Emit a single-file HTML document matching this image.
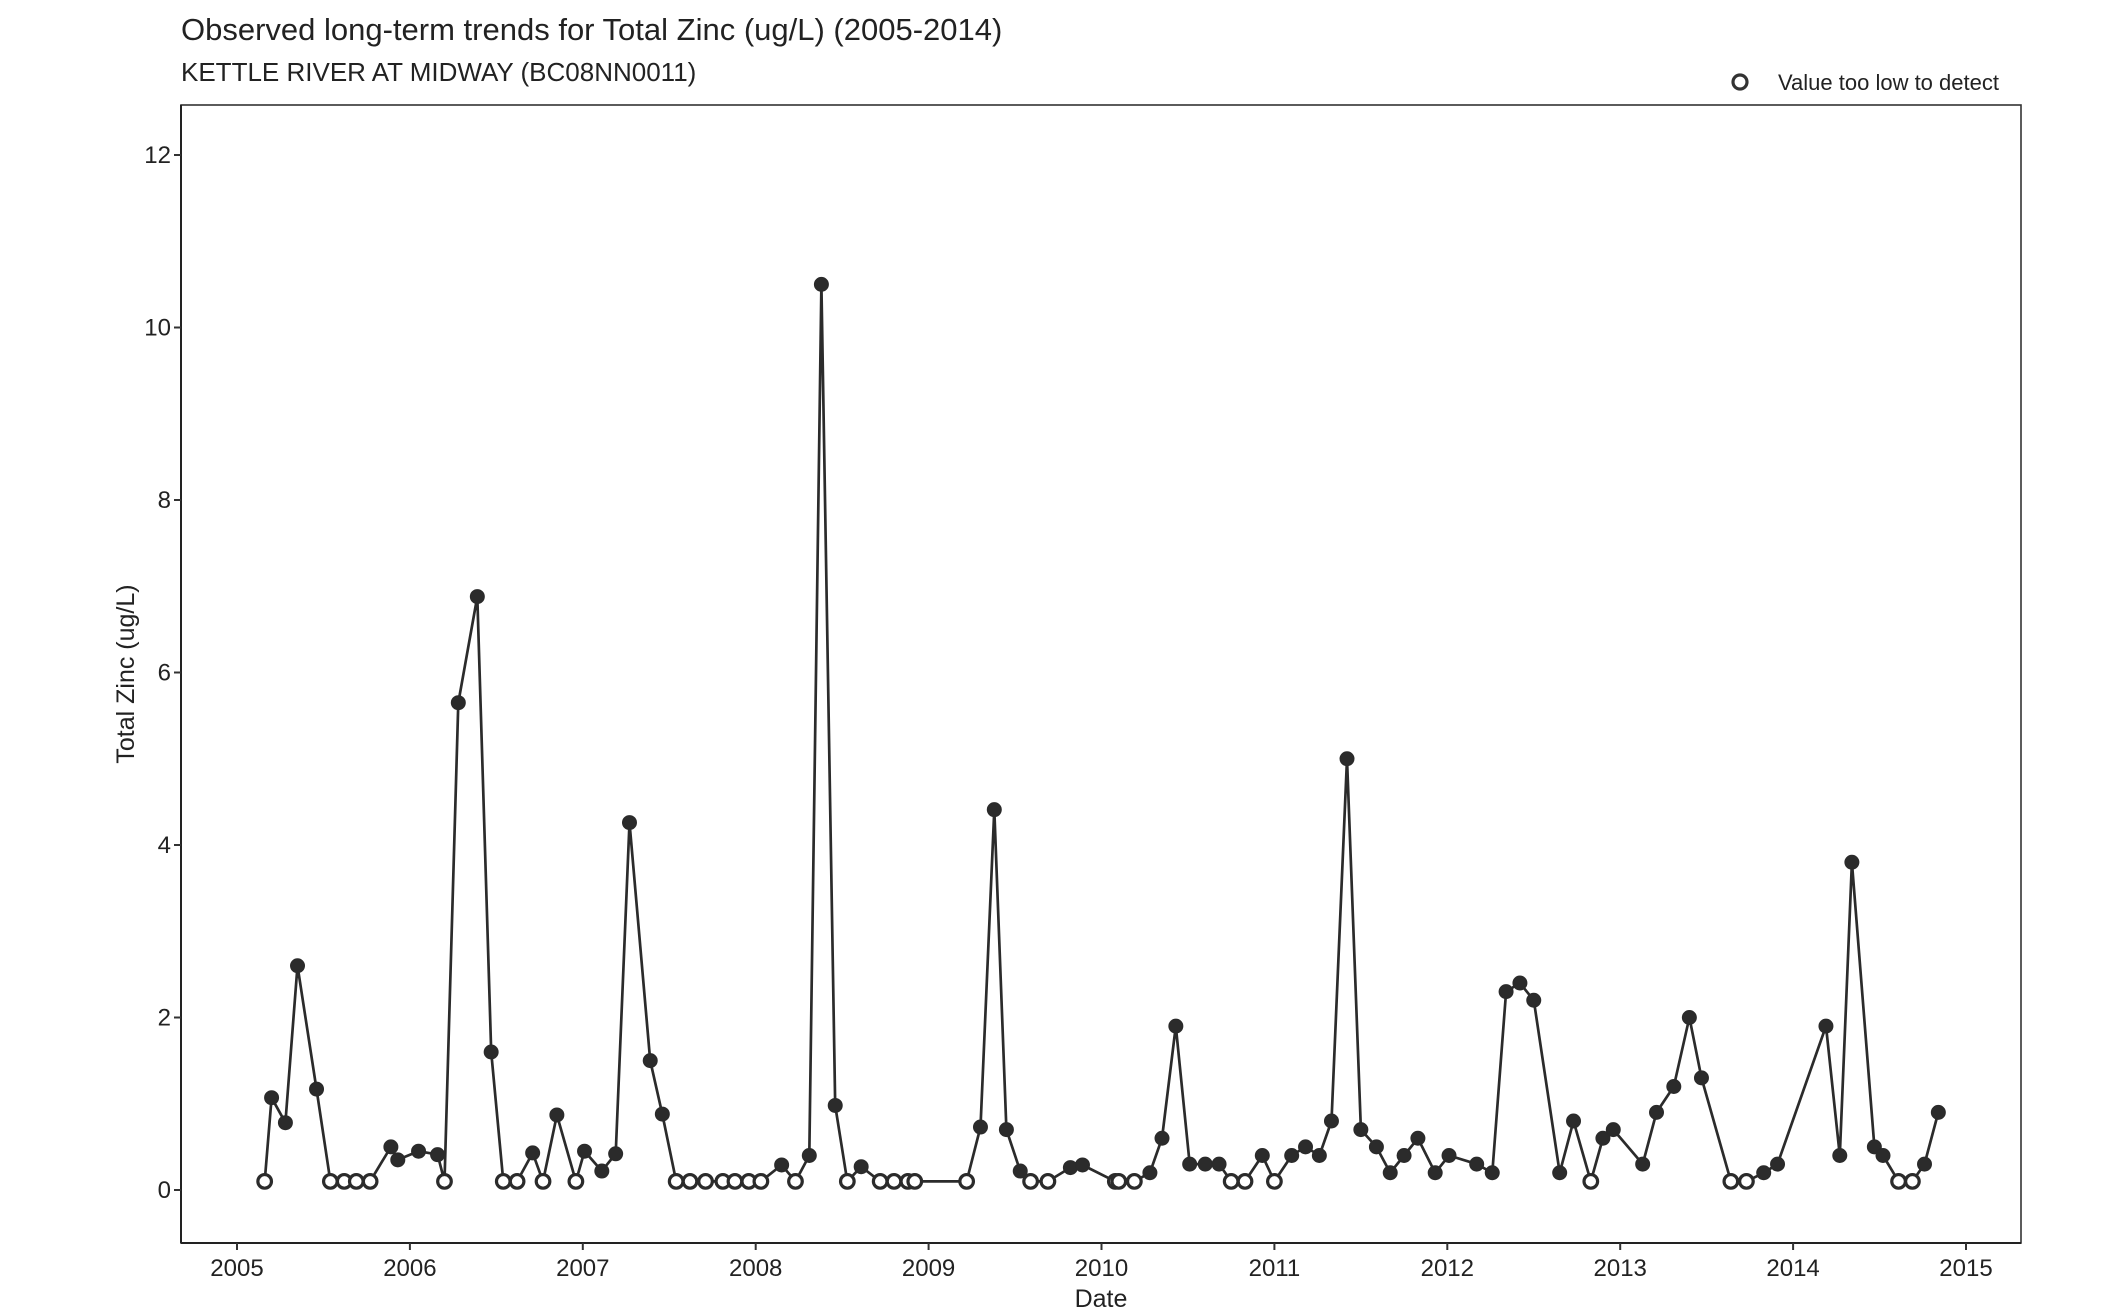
<!DOCTYPE html>
<html><head><meta charset="utf-8"><style>
html,body{margin:0;padding:0;background:#fff;}
svg{display:block;font-family:"Liberation Sans",Arial,sans-serif;}
</style></head><body>
<svg id="chart" width="2112" height="1309" viewBox="0 0 2112 1309" xmlns="http://www.w3.org/2000/svg">
<rect width="2112" height="1309" fill="#fff"/>
<text x="181" y="40" font-size="31" fill="#222">Observed long-term trends for Total Zinc (ug/L) (2005-2014)</text>
<text x="181" y="81" font-size="26" fill="#222">KETTLE RIVER AT MIDWAY (BC08NN0011)</text>
<g>
<circle cx="1740" cy="82" r="7" fill="#fff" stroke="#333" stroke-width="3.2"/>
<text x="1778" y="90" font-size="22" fill="#222">Value too low to detect</text>
</g>
<rect x="181" y="105" width="1840" height="1138" fill="none" stroke="#333" stroke-width="1.6"/>
<g id="axes"></g>
<g id="series"></g>
<text x="1101" y="1307" font-size="25" text-anchor="middle" fill="#222">Date</text>
<text transform="translate(134,674) rotate(-90)" font-size="25" text-anchor="middle" fill="#222">Total Zinc (ug/L)</text>
</svg>
<script>
const dates=[2005.16,2005.20,2005.28,2005.35,2005.46,2005.54,2005.62,2005.69,2005.77,2005.89,2005.93,2006.05,2006.16,2006.20,2006.28,2006.39,2006.47,2006.54,2006.62,2006.71,2006.77,2006.85,2006.96,2007.01,2007.11,2007.19,2007.27,2007.39,2007.46,2007.54,2007.62,2007.71,2007.81,2007.88,2007.96,2008.03,2008.15,2008.23,2008.31,2008.38,2008.46,2008.53,2008.61,2008.72,2008.80,2008.88,2008.92,2009.22,2009.30,2009.38,2009.45,2009.53,2009.59,2009.69,2009.82,2009.89,2010.08,2010.10,2010.19,2010.28,2010.35,2010.43,2010.51,2010.60,2010.68,2010.75,2010.83,2010.93,2011.00,2011.10,2011.18,2011.26,2011.33,2011.42,2011.50,2011.59,2011.67,2011.75,2011.83,2011.93,2012.01,2012.17,2012.26,2012.34,2012.42,2012.50,2012.65,2012.73,2012.83,2012.90,2012.96,2013.13,2013.21,2013.31,2013.40,2013.47,2013.64,2013.73,2013.83,2013.91,2014.19,2014.27,2014.34,2014.47,2014.52,2014.61,2014.69,2014.76,2014.84];
const values=[0.1,1.07,0.78,2.6,1.17,0.1,0.1,0.1,0.1,0.5,0.35,0.45,0.41,0.1,5.65,6.88,1.6,0.1,0.1,0.43,0.1,0.87,0.1,0.45,0.22,0.42,4.26,1.5,0.88,0.1,0.1,0.1,0.1,0.1,0.1,0.1,0.29,0.1,0.4,10.5,0.98,0.1,0.27,0.1,0.1,0.1,0.1,0.1,0.73,4.41,0.7,0.22,0.1,0.1,0.26,0.29,0.1,0.1,0.1,0.2,0.6,1.9,0.3,0.3,0.3,0.1,0.1,0.4,0.1,0.4,0.5,0.4,0.8,5.0,0.7,0.5,0.2,0.4,0.6,0.2,0.4,0.3,0.2,2.3,2.4,2.2,0.2,0.8,0.1,0.6,0.7,0.3,0.9,1.2,2.0,1.3,0.1,0.1,0.2,0.3,1.9,0.4,3.8,0.5,0.4,0.1,0.1,0.3,0.9];
const belowDetect=[1,0,0,0,0,1,1,1,1,0,0,0,0,1,0,0,0,1,1,0,1,0,1,0,0,0,0,0,0,1,1,1,1,1,1,1,0,1,0,0,0,1,0,1,1,1,1,1,0,0,0,0,1,1,0,0,1,1,1,0,0,0,0,0,0,1,1,0,1,0,0,0,0,0,0,0,0,0,0,0,0,0,0,0,0,0,0,0,1,0,0,0,0,0,0,0,1,1,0,0,0,0,0,0,0,1,1,0,0];
const xTicks=[2005,2006,2007,2008,2009,2010,2011,2012,2013,2014,2015];
const yTicks=[0,2,4,6,8,10,12];
const NS="http://www.w3.org/2000/svg";
const xScale=v=>237+(v-2005)*172.9;
const yScale=v=>1190-v*86.25;
function mk(tag,attrs,parent){const e=document.createElementNS(NS,tag);for(const k in attrs)e.setAttribute(k,attrs[k]);parent.appendChild(e);return e;}
const axes=document.getElementById('axes');
const series=document.getElementById('series');
mk('line',{x1:181,y1:105,x2:181,y2:1243,stroke:'#222','stroke-width':2},axes);
mk('line',{x1:181,y1:1243,x2:2021,y2:1243,stroke:'#222','stroke-width':2},axes);
xTicks.forEach(t=>{
  const x=xScale(t);
  const tk=mk('line',{x1:x,y1:1243,x2:x,y2:1250,stroke:'#333','stroke-width':2},axes);
  
  
  const lb=mk('text',{x:x,y:1276,'font-size':24,'text-anchor':'middle',fill:'#222'},axes);
  lb.textContent=t;
  
  
});
yTicks.forEach(t=>{
  const y=yScale(t);
  const tk=mk('line',{x1:174,y1:y,x2:181,y2:y,stroke:'#333','stroke-width':2},axes);
  
  
  const lb=mk('text',{x:171,y:y+8,'font-size':24,'text-anchor':'end',fill:'#222'},axes);
  lb.textContent=t;
  
  
});
const pts=dates.map((d,i)=>xScale(d).toFixed(1)+','+yScale(values[i]).toFixed(1)).join(' ');
const line=mk('polyline',{points:pts,fill:'none',stroke:'#2b2b2b','stroke-width':2.7,'stroke-linejoin':'round'},series);


dates.forEach((d,i)=>{
  const open=belowDetect[i]===1;
  const c=mk('circle',{cx:xScale(d),cy:yScale(values[i]),r:open?6.8:7,fill:open?'#fff':'#2b2b2b',stroke:'#2b2b2b','stroke-width':open?3.2:1},series);
  
  
});
</script>
</body></html>
